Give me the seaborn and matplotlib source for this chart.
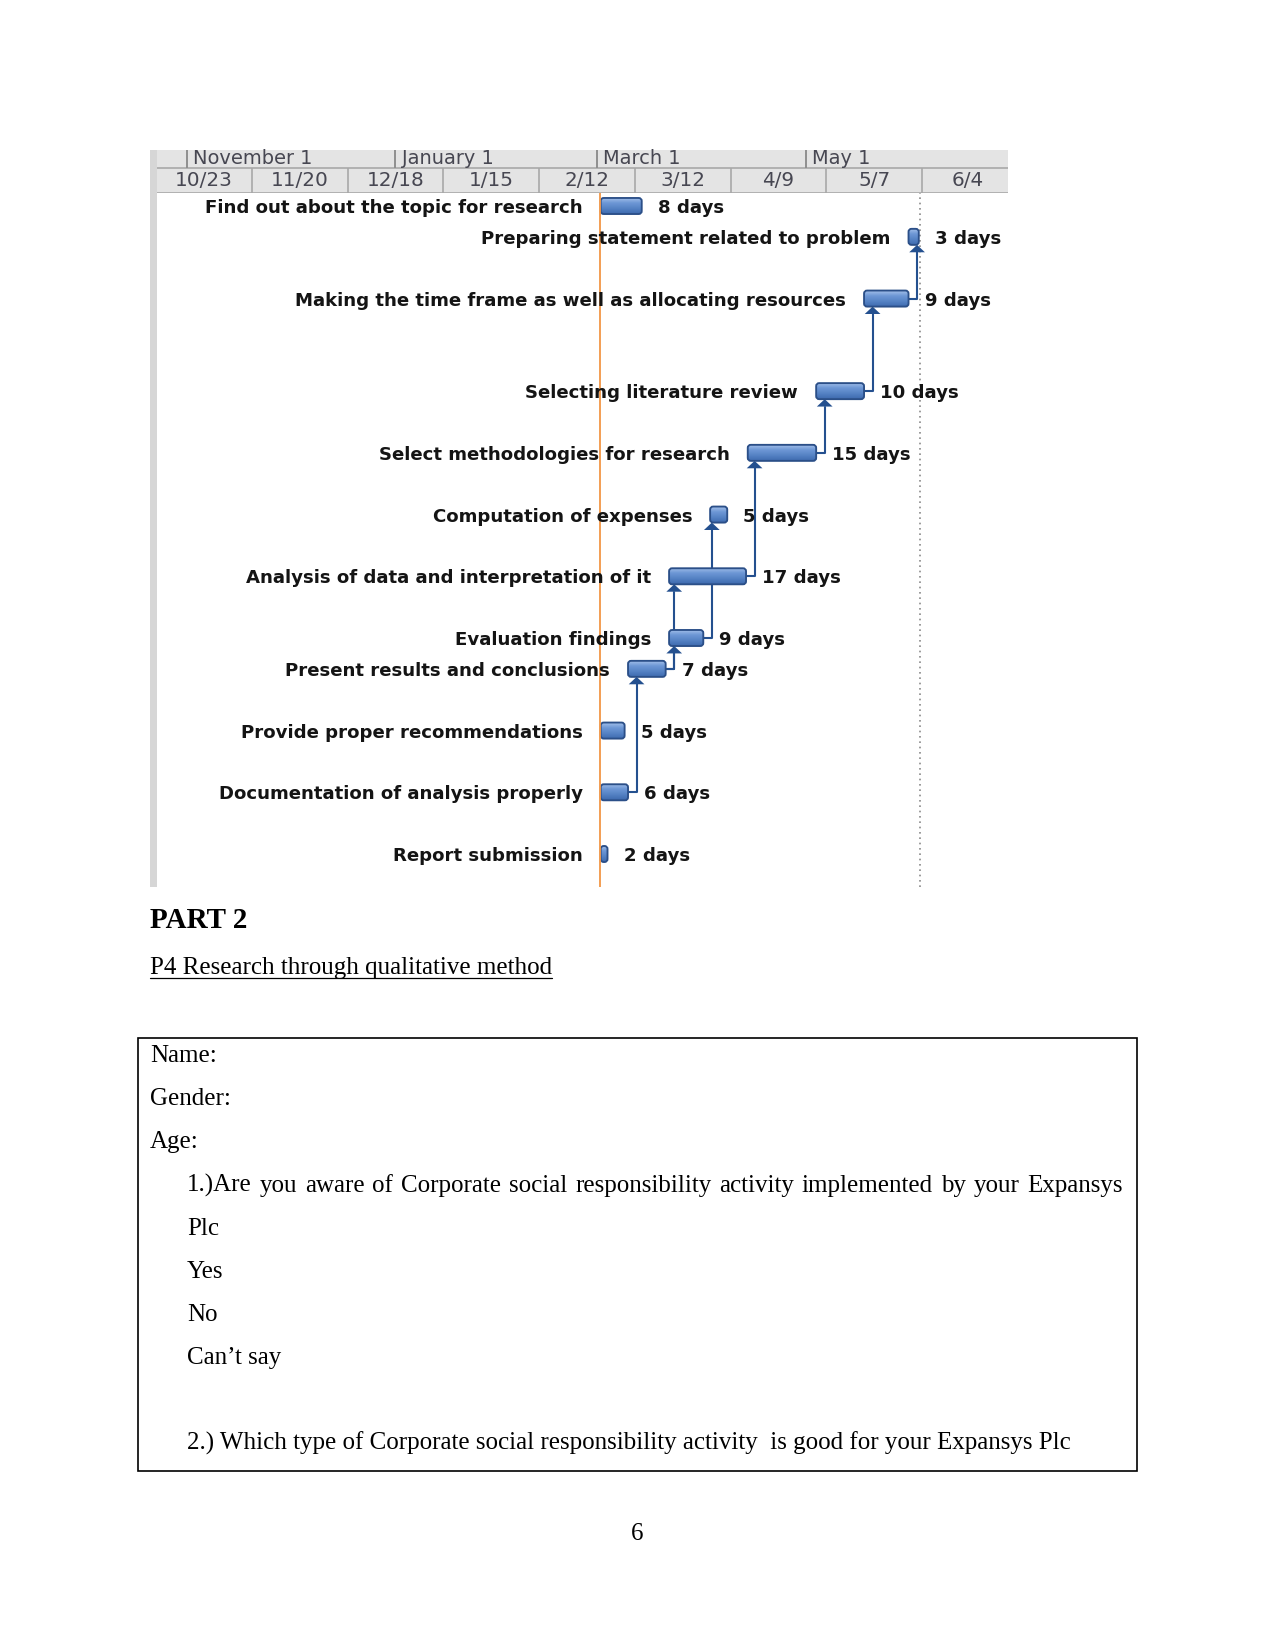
import numpy as np
import pandas as pd
import matplotlib
matplotlib.use("Agg")
import matplotlib.pyplot as plt
import matplotlib.dates as mdates
from matplotlib.patches import FancyBboxPatch, Rectangle
from matplotlib.lines import Line2D
from matplotlib.colors import LinearSegmentedColormap
import seaborn as sns

# ---------------- data ----------------
tasks = [
    "Find out about the topic for research",
    "Preparing statement related to problem",
    "Making the time frame as well as allocating resources",
    "Selecting literature review",
    "Select methodologies for research",
    "Computation of expenses",
    "Analysis of data and interpretation of it",
    "Evaluation findings",
    "Present results and conclusions",
    "Provide proper recommendations",
    "Documentation of analysis properly",
    "Report submission",
]
starts = ["2017-03-02 00:00", "2017-05-31 00:00", "2017-05-18 00:00", "2017-05-04 00:00",
          "2017-04-14 00:00", "2017-04-03 00:00", "2017-03-22 00:00", "2017-03-22 00:00",
          "2017-03-10 00:00", "2017-03-02 00:00", "2017-03-02 00:00", "2017-03-02 00:00"]
finishes = ["2017-03-14 00:00", "2017-06-03 00:00", "2017-05-31 00:00", "2017-05-18 00:00",
            "2017-05-04 00:00", "2017-04-08 00:00", "2017-04-13 12:00", "2017-04-01 00:00",
            "2017-03-21 00:00", "2017-03-09 00:00", "2017-03-10 00:00", "2017-03-04 00:00"]
durations = ["8 days", "3 days", "9 days", "10 days", "15 days", "5 days",
             "17 days", "9 days", "7 days", "5 days", "6 days", "2 days"]
row_pos = [0, 1, 3, 6, 8, 10, 12, 14, 15, 17, 19, 21]
# dependency links (predecessor index, successor index)
links = [(10, 8), (8, 7), (8, 6), (7, 5), (6, 4), (4, 3), (3, 2), (2, 1)]

week_labels = ["10/23", "11/20", "12/18", "1/15", "2/12", "3/12", "4/9", "5/7", "6/4"]
week_starts = ["2016-10-23", "2016-11-20", "2016-12-18", "2017-01-15", "2017-02-12",
               "2017-03-12", "2017-04-09", "2017-05-07", "2017-06-04"]
month_labels = ["November 1", "January 1", "March 1", "May 1"]
month_starts = ["2016-11-01", "2017-01-01", "2017-03-01", "2017-05-01"]
view_start, view_end = "2016-10-23", "2017-06-29 02:00"
today = "2017-03-01 18:00"
deadline = "2017-06-03 12:00"

q1_text = ("1.)Are you aware of Corporate social responsibility activity implemented by your Expansys")
form_lines = ["Name:", "Gender:", "Age:"]
q1_options = ["Plc", "Yes", "No", "Can\u2019t say"]
q2_text = "2.) Which type of Corporate social responsibility activity  is good for your Expansys Plc"

# ---------------- setup ----------------
sns.set_style("white")
plt.rcParams["font.family"] = ["DejaVu Sans"]
plt.rcParams["text.color"] = "black"

W, H, DPI = 1275, 1651, 150
fig = plt.figure(figsize=(W / DPI, H / DPI), dpi=DPI)
fig.patch.set_facecolor("white")


def fx(px):
    return px / W


def fy(py):
    return 1 - py / H


GL, GR, GT, GHB, GB = 156, 1008, 150, 193, 887
ax_h = fig.add_axes([fx(GL), fy(GHB), fx(GR) - fx(GL), fy(GT) - fy(GHB)])
ax = fig.add_axes([fx(GL), fy(GB), fx(GR) - fx(GL), fy(GHB) - fy(GB)])

# left grey strip
fig.add_artist(Rectangle((fx(150), fy(GB)), fx(157) - fx(150), fy(GT) - fy(GB),
                         transform=fig.transFigure, fc="#D6D6D6", ec="none"))

xa, xb = mdates.date2num(pd.Timestamp(view_start)), mdates.date2num(pd.Timestamp(view_end))

# ---------------- header ----------------
ax_h.set_facecolor("#E4E4E4")
ax_h.set_xlim(xa, xb)
ax_h.set_ylim(43, 0)
wk = mdates.date2num(pd.to_datetime(week_starts))
mo = mdates.date2num(pd.to_datetime(month_starts))
hdr_line = "#A8A8A8"
ax_h.axhline(17.5, color=hdr_line, lw=0.8)
ax_h.axhline(42.6, color=hdr_line, lw=0.8)
ax_h.vlines(wk, 17.5, 43, color=hdr_line, lw=0.8)
ax_h.vlines(mo, 0, 17.5, color="#8C8C8C", lw=0.9)
ax_h.vlines([xa], 0, 43, color=hdr_line, lw=0.8)
for d, lab in zip(mo, month_labels):
    ax_h.annotate(lab, (d, 9), xytext=(3, 0), textcoords="offset points",
                  ha="left", va="center", fontsize=9.3, color="#474752")
for d, lab in zip(wk, week_labels):
    ax_h.text(min(d + 14, (d + xb) / 2 + 0.8), 30.5, lab, ha="center", va="center",
              fontsize=9.6, color="#474752")
ax_h.set_xticks([])
ax_h.set_yticks([])
for s in ax_h.spines.values():
    s.set_visible(False)

# ---------------- gantt ----------------
BH = 0.52
x0 = mdates.date2num(pd.to_datetime(starts, format="%Y-%m-%d %H:%M"))
x1 = mdates.date2num(pd.to_datetime(finishes, format="%Y-%m-%d %H:%M"))
bars = ax.barh(row_pos, x1 - x0, left=x0, height=BH)

cmap = LinearSegmentedColormap.from_list("bar", ["#A9C4EC", "#6E98D6", "#5582C4", "#3E6AAE"])
grad = np.linspace(0, 1, 60).reshape(-1, 1)
rs = 0.9
ma = (3 / 30.86) / rs
for b in bars.patches:
    bx, by, bw, bh = b.get_x(), b.get_y(), b.get_width(), b.get_height()
    b.set_visible(False)
    patch = FancyBboxPatch((bx, by), bw, bh, boxstyle=f"round,pad=0,rounding_size={rs}",
                           mutation_aspect=ma, fc="none", ec="#2B4F88", lw=0.9, zorder=4)
    ax.add_patch(patch)
    im = ax.imshow(grad, extent=(bx, bx + bw, by + bh, by), aspect="auto", cmap=cmap,
                   origin="upper", zorder=3, interpolation="bilinear")
    im.set_clip_path(patch)

link_col = "#24508F"
ah_w, ah_h = 2.3, 0.24
for p, s in links:
    xe = x1[p]
    xv = xe + 2.5
    yp = row_pos[p]
    yb = row_pos[s] + BH / 2
    ax.plot([xe, xv, xv], [yp, yp, yb + ah_h], color=link_col, lw=1.0, zorder=2,
            solid_joinstyle="round")
    ax.fill([xv - ah_w, xv + ah_w, xv], [yb + ah_h, yb + ah_h, yb], color=link_col,
            lw=0, zorder=2)

for i, (name, dur) in enumerate(zip(tasks, durations)):
    ax.annotate(name, (x0[i], row_pos[i]), xytext=(-8.6, 0), textcoords="offset points",
                ha="right", va="center_baseline", fontsize=8.7, fontweight="bold",
                color="#141414", zorder=5)
    ax.annotate(dur, (x1[i], row_pos[i]), xytext=(7.7, 0), textcoords="offset points",
                ha="left", va="center_baseline", fontsize=8.7, fontweight="bold",
                color="#141414", zorder=5)

ax.axvline(mdates.date2num(pd.Timestamp(today)), color="#F39A4C", lw=0.9, zorder=4.5)
ax.axvline(mdates.date2num(pd.Timestamp(deadline)), color="#8A8A8A", lw=0.8,
           ls=(0, (1, 2.2)), zorder=1)

ax.set_xlim(xa, xb)
ax.set_ylim(21 + 33 / 30.86, -13 / 30.86)
ax.set_xticks([])
ax.set_yticks([])
for s in ax.spines.values():
    s.set_visible(False)

# ---------------- document text ----------------
serif = ["Liberation Serif", "DejaVu Serif"]
fig.text(fx(150), fy(928), "PART 2", fontsize=14, fontweight="bold", family=serif,
         va="baseline", ha="left", color="black")
p4 = fig.text(fx(150), fy(974), "P4 Research through qualitative method", fontsize=12,
              family=serif, va="baseline", ha="left", color="black")

fig.add_artist(Rectangle((fx(138), fy(1471)), fx(1137) - fx(138), fy(1038) - fy(1471),
                         transform=fig.transFigure, fc="none", ec="black", lw=0.8))

base = 1062
for k, line in enumerate(form_lines):
    fig.text(fx(150), fy(base + 43 * k), line, fontsize=12, family=serif, va="baseline",
             color="black")

renderer = fig.canvas.get_renderer()
# underline for P4
bb = p4.get_window_extent(renderer)
fig.add_artist(Line2D([fx(150), fx(150) + bb.width / W], [fy(978), fy(978)],
                      transform=fig.transFigure, color="black", lw=0.6))

# justified question line
words = q1_text.split(" ")
wtexts = [fig.text(0, 0, w, fontsize=12, family=serif, va="baseline", color="black")
          for w in words]
widths = [t.get_window_extent(renderer).width for t in wtexts]
jx0, jx1 = 187, 1123
gap = (jx1 - jx0 - sum(widths)) / (len(words) - 1)
xx = jx0
for t, w in zip(wtexts, widths):
    t.set_position((fx(xx), fy(1192)))
    xx += w + gap

for k, line in enumerate(q1_options):
    fig.text(fx(187), fy(1235 + 43 * k), line, fontsize=12, family=serif, va="baseline",
             color="black")

fig.text(fx(187), fy(1450), q2_text, fontsize=12, family=serif, va="baseline", color="black")
fig.text(fx(637), fy(1540), "6", fontsize=12, family=serif, va="baseline", ha="center",
         color="black")

fig.savefig("out.png", dpi=DPI, facecolor="white")
